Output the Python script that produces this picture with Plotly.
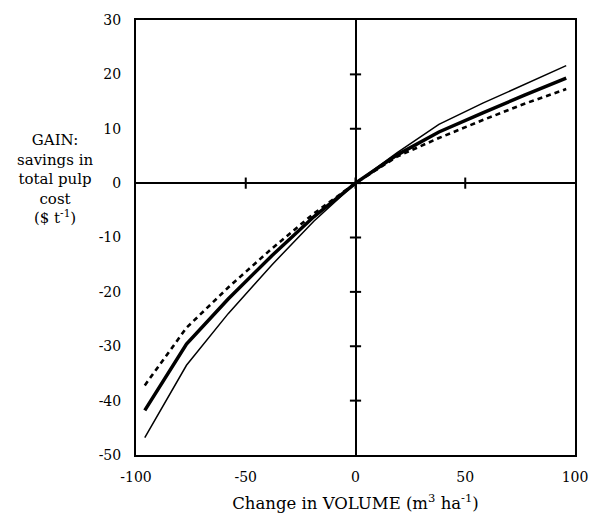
import plotly.graph_objects as go

volume_change = [-96, -77, -58, -38, -19, 0, 19, 38, 58, 77, 96]
gain_thin = [-46.8, -33.5, -24.0, -15.0, -7.0, 0, 5.6, 10.8, 14.7, 18.2, 21.6]
gain_thick = [-41.8, -29.6, -21.3, -13.3, -6.2, 0, 5.2, 9.4, 12.9, 16.2, 19.3]
gain_dashed = [-37.2, -26.6, -19.2, -12.0, -5.6, 0, 4.9, 8.3, 11.6, 14.6, 17.3]

x_ticks = [-100, -50, 0, 50, 100]
y_ticks = [-50, -40, -30, -20, -10, 0, 10, 20, 30]

FONT = "DejaVu Serif"

fig = go.Figure()

# tick crosses on the central axes (inner ticks only)
y_inner = y_ticks[1:-1]
x_inner = x_ticks[1:-1]
fig.add_trace(go.Scatter(x=[0] * len(y_inner), y=y_inner, mode="markers",
                         marker=dict(symbol="line-ew", size=8, line=dict(width=2, color="black")),
                         hoverinfo="skip", showlegend=False))
fig.add_trace(go.Scatter(x=x_inner, y=[0] * len(x_inner), mode="markers",
                         marker=dict(symbol="line-ns", size=8, line=dict(width=2, color="black")),
                         hoverinfo="skip", showlegend=False))

fig.add_trace(go.Scatter(x=volume_change, y=gain_dashed, mode="lines",
                         line=dict(color="black", width=2.6, dash="5px,4px"), showlegend=False))
fig.add_trace(go.Scatter(x=volume_change, y=gain_thin, mode="lines",
                         line=dict(color="black", width=1.5), showlegend=False))
fig.add_trace(go.Scatter(x=volume_change, y=gain_thick, mode="lines",
                         line=dict(color="black", width=3.5), showlegend=False))

fig.update_layout(
    width=589, height=515,
    margin=dict(l=136, r=14, t=20, b=60),
    paper_bgcolor="white", plot_bgcolor="white",
    font=dict(family=FONT, size=14, color="black"),
    xaxis=dict(range=[-100, 100], tickvals=x_ticks, ticktext=[str(v) for v in x_ticks],
               showgrid=False, zeroline=True, zerolinecolor="black", zerolinewidth=2,
               showline=True, linecolor="black", linewidth=2, mirror=True,
               ticks="", ticklabelstandoff=8, automargin=False,
               title=dict(text="Change in VOLUME (m<sup>3</sup> ha<sup>-1</sup>)",
                          font=dict(family=FONT, size=16.5), standoff=14)),
    yaxis=dict(range=[-50, 30], tickvals=y_ticks, ticktext=[str(v) for v in y_ticks],
               showgrid=False, zeroline=True, zerolinecolor="black", zerolinewidth=2,
               showline=True, linecolor="black", linewidth=2, mirror=True,
               ticks="", ticklabelstandoff=10, automargin=False),
    annotations=[dict(
        text="GAIN:<br>savings in<br>total pulp<br>cost<br>($ t<sup>-1</sup>)",
        xref="paper", yref="paper",
        x=(55 - 136) / 439, y=(455 - 179) / 435,
        xanchor="center", yanchor="middle", align="center",
        showarrow=False, font=dict(family=FONT, size=15))],
)

fig.write_html("out.html", config={"displayModeBar": False},
               post_script="document.body.style.margin='0';document.body.style.overflow='hidden';")
